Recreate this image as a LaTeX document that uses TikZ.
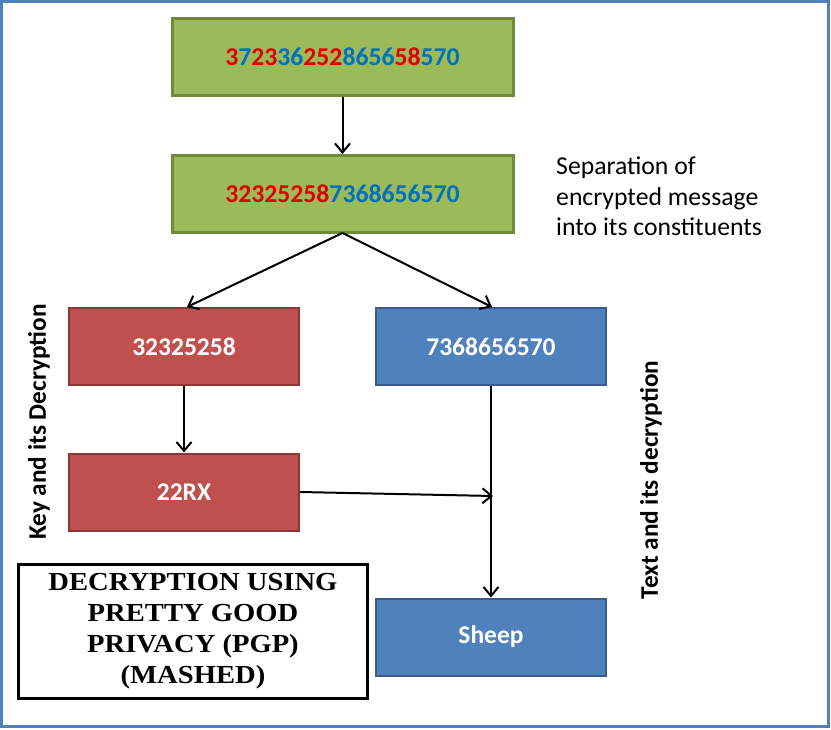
\documentclass[tikz,border=0pt]{standalone}
\usepackage{fontspec}
\setmainfont{Carlito}
\newfontfamily\pgpfont[FakeStretch=1.1]{Liberation Serif}
\usetikzlibrary{arrows.meta}
\definecolor{frameblue}{HTML}{4F81BD}
\definecolor{gfill}{HTML}{9BBB59}
\definecolor{gdraw}{HTML}{71893F}
\definecolor{rfill}{HTML}{C0504D}
\definecolor{rdraw}{HTML}{8C3836}
\definecolor{bfill}{HTML}{4F81BD}
\definecolor{bdraw}{HTML}{385D8A}
\definecolor{dred}{HTML}{E00000}
\definecolor{dblue}{HTML}{0070C0}
\tikzset{
  greenbox/.style={draw=gdraw, fill=gfill, line width=3pt, minimum width=341pt, minimum height=77pt, inner sep=0pt, font=\fontsize{25.7}{30}\selectfont\bfseries},
  redbox/.style={draw=rdraw, fill=rfill, line width=2pt, minimum width=230pt, minimum height=77pt, inner sep=0pt, text=white, font=\fontsize{25.5}{30}\selectfont\bfseries},
  bluebox/.style={draw=bdraw, fill=bfill, line width=2pt, minimum width=230pt, minimum height=77pt, inner sep=0pt, text=white, font=\fontsize{25.5}{30}\selectfont\bfseries},
  conn/.style={line width=2pt, -{Straight Barb[length=9pt,width=15pt,line width=2pt]}},
  sidelabel/.style={font=\fontsize{25.3}{30}\selectfont\bfseries, rotate=90, inner sep=0pt}
}
\newcommand{\rd}[1]{\textcolor{dred}{#1}}
\newcommand{\bl}[1]{\textcolor{dblue}{#1}}
\begin{document}
\begin{tikzpicture}[x=1pt,y=-1pt]
\useasboundingbox (0,0) rectangle (831,730);
\fill[white] (0,0) rectangle (831,730);
\draw[frameblue, line width=3pt] (1.5,1.5) rectangle (828.5,726.5);

\node[greenbox] (top) at (342.5,57) {\rd{3}\bl{7}\rd{23}\bl{36}\rd{252}\bl{8656}\rd{58}\bl{570}};
\node[greenbox] (sep) at (342.5,194) {\rd{32325258}\bl{7368656570}};
\node[anchor=base west, align=left, inner sep=0pt, font=\fontsize{25.7}{30.5}\selectfont] (septext) at (556,236) {Separation of\\encrypted message\\into its constituents};

\node[redbox] (key) at (184,347) {32325258};
\node[bluebox] (txt) at (491,347) {7368656570};
\node[redbox] (kdec) at (184,492) {22RX};
\node[bluebox] (sheep) at (491,637) {Sheep};

\node[draw=black, line width=3pt, minimum width=349pt, minimum height=134pt, inner sep=0pt, align=center, font=\pgpfont\fontsize{26}{31}\selectfont\bfseries] (pgp) at (193,631.5) {DECRYPTION USING\\PRETTY GOOD\\PRIVACY (PGP)\\(MASHED)};

\node[sidelabel] (klabel) at (39,422) {Key and its Decryption};
\node[sidelabel] (tlabel) at (651,480) {Text and its decryption};

\coordinate (split) at (342.5,233);
\coordinate (lt) at (187,307);
\coordinate (rt) at (492,307);
\coordinate (join) at (493,496);

\draw[conn] (top.south) -- (sep.north);
\draw[conn] (split) -- (lt);
\draw[conn] (split) -- (rt);
\draw[conn] (key.south) -- (kdec.north);
\draw[conn] (kdec.east) -- (join);
\draw[conn] (txt.south) -- (sheep.north);
\end{tikzpicture}
\end{document}
